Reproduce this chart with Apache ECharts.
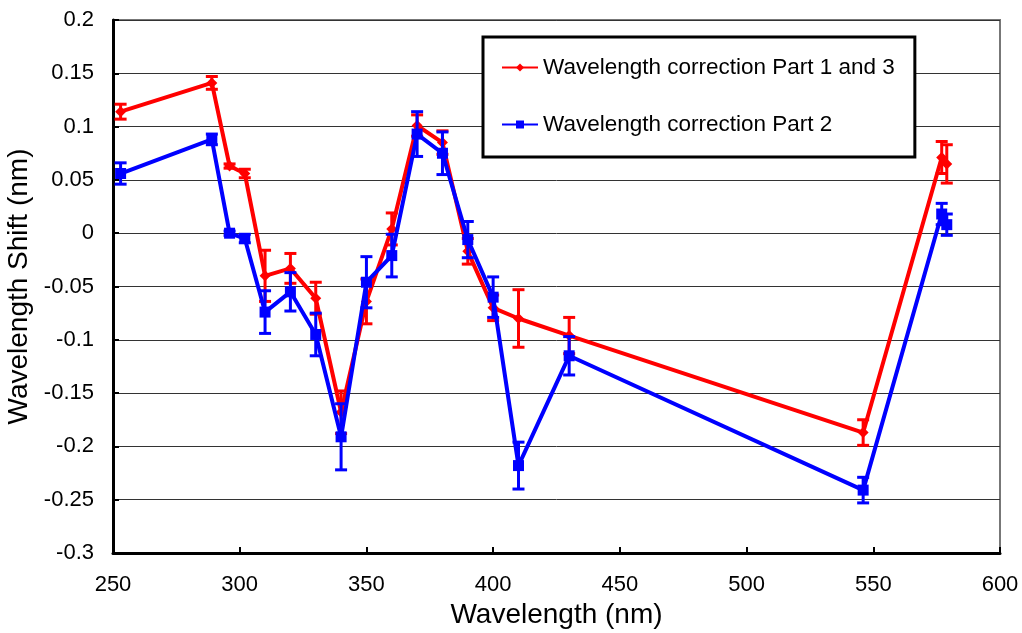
<!DOCTYPE html>
<html>
<head>
<meta charset="utf-8">
<script src="https://cdn.jsdelivr.net/npm/echarts@6/dist/echarts.min.js"></script>
<style>html,body{margin:0;padding:0;background:#fff;}#c{width:1022px;height:633px;}</style>
</head>
<body>
<div id="c"></div>
<script>
const wavelengths = [253, 289, 296, 302, 310, 320, 330, 340, 350, 360, 370, 380, 390, 400, 410, 430, 546, 577, 579];
const redValues  = [0.114, 0.141, 0.063, 0.056, -0.040, -0.033, -0.061, -0.168, -0.064, 0.004, 0.101, 0.085, -0.017, -0.070, -0.080, -0.096, -0.187, 0.071, 0.065];
const redErr     = [0.007, 0.006, 0.002, 0.004, 0.024, 0.014, 0.015, 0.020, 0.021, 0.015, 0.010, 0.011, 0.012, 0.012, 0.027, 0.017, 0.012, 0.015, 0.018];
const blueValues = [0.056, 0.088, 0.000, -0.005, -0.074, -0.055, -0.095, -0.191, -0.046, -0.021, 0.093, 0.075, -0.006, -0.060, -0.218, -0.115, -0.241, 0.018, 0.008];
const blueErr    = [0.010, 0.005, 0.002, 0.004, 0.020, 0.018, 0.020, 0.031, 0.024, 0.020, 0.021, 0.020, 0.017, 0.019, 0.022, 0.018, 0.012, 0.010, 0.010];
const xTicks = [250, 300, 350, 400, 450, 500, 550, 600];
const yTicks = [-0.3, -0.25, -0.2, -0.15, -0.1, -0.05, 0, 0.05, 0.1, 0.15, 0.2];
const seriesNames = ['Wavelength correction Part 1 and 3', 'Wavelength correction Part 2'];

const RED = '#ff0000', BLUE = '#0000ff';
const font = 'Liberation Sans, Arial, sans-serif';

function pts(vals) { return wavelengths.map((w, i) => [w, vals[i]]); }
function errs(vals, e) { return wavelengths.map((w, i) => [w, vals[i] - e[i], vals[i] + e[i]]); }

function errRender(color) {
  return function (params, api) {
    const x = api.value(0);
    const lo = api.coord([x, api.value(1)]);
    const hi = api.coord([x, api.value(2)]);
    const cw = 6;
    const st = { stroke: color, lineWidth: 3 };
    return {
      type: 'group',
      children: [
        { type: 'line', shape: { x1: lo[0], y1: lo[1], x2: hi[0], y2: hi[1] }, style: st },
        { type: 'line', shape: { x1: lo[0] - cw, y1: lo[1], x2: lo[0] + cw, y2: lo[1] }, style: st },
        { type: 'line', shape: { x1: hi[0] - cw, y1: hi[1], x2: hi[0] + cw, y2: hi[1] }, style: st }
      ]
    };
  };
}

const chart = echarts.init(document.getElementById('c'), null, { renderer: 'canvas' });
chart.setOption({
  animation: false,
  backgroundColor: '#fff',
  grid: { left: 113, right: 22, top: 20, bottom: 80, show: true, borderColor: '#777', borderWidth: 2,
          backgroundColor: 'transparent', containLabel: false, outerBoundsMode: 'none' },
  legend: {
    data: seriesNames,
    orient: 'vertical',
    left: 483, top: 37,
    padding: [19, 20, 21, 18],
    itemGap: 34,
    itemWidth: 36, itemHeight: 10,
    borderColor: '#000', borderWidth: 3,
    backgroundColor: '#fff',
    textStyle: { fontFamily: font, fontSize: 22.5, color: '#000', padding: [0, 0, 0, 0] }
  },
  xAxis: {
    type: 'value', min: 250, max: 600, interval: 50,
    name: 'Wavelength (nm)', nameLocation: 'middle', nameGap: 45,
    nameTextStyle: { fontFamily: font, fontSize: 28, color: '#000' },
    axisLine: { onZero: false, lineStyle: { color: '#000', width: 3 } },
    axisTick: { inside: true, length: 6, lineStyle: { color: '#000', width: 2 } },
    axisLabel: { fontFamily: font, fontSize: 22, color: '#000', margin: 21 },
    splitLine: { show: false }
  },
  yAxis: {
    type: 'value', min: -0.3, max: 0.2, interval: 0.05,
    name: 'Wavelength Shift (nm)', nameLocation: 'middle', nameGap: 74,
    nameTextStyle: { fontFamily: font, fontSize: 28, color: '#000' },
    axisLine: { onZero: false, lineStyle: { color: '#000', width: 3 } },
    axisTick: { inside: true, length: 6, lineStyle: { color: '#000', width: 2 } },
    axisLabel: { fontFamily: font, fontSize: 22, color: '#000', margin: 19,
      formatter: v => { const r = Math.round(v * 100) / 100; return yTicks.some(t => Math.abs(t - r) < 1e-9) ? String(r) : ''; } },
    splitLine: { show: true, lineStyle: { color: '#333', width: 1 } }
  },
  series: [
    {
      name: seriesNames[0], type: 'line', data: pts(redValues), z: 3,
      symbol: 'diamond', symbolSize: 11,
      lineStyle: { color: RED, width: 4 }, itemStyle: { color: RED }
    },
    {
      name: seriesNames[0] + ' err', type: 'custom', data: errs(redValues, redErr), z: 3,
      renderItem: errRender(RED), encode: { x: 0, y: [1, 2] }
    },
    {
      name: seriesNames[1], type: 'line', data: pts(blueValues), z: 4,
      symbol: 'rect', symbolSize: 11,
      lineStyle: { color: BLUE, width: 4 }, itemStyle: { color: BLUE }
    },
    {
      name: seriesNames[1] + ' err', type: 'custom', data: errs(blueValues, blueErr), z: 4,
      renderItem: errRender(BLUE), encode: { x: 0, y: [1, 2] }
    }
  ]
});
</script>
</body>
</html>
